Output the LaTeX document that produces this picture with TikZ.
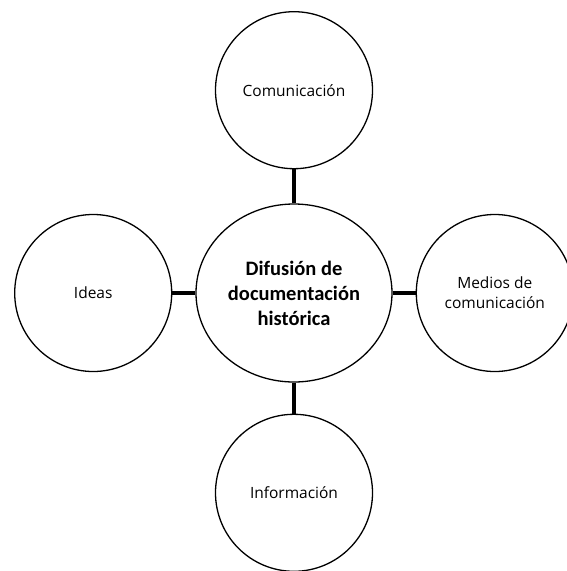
\documentclass[tikz,border=0pt]{standalone}
\usepackage{fontspec}
\setmainfont{Open Sans}
\newfontfamily\titlefont{Carlito}
\usetikzlibrary{positioning, shapes.geometric}
\tikzset{
every node/.style={align=center, inner sep=0pt},
tema/.style={draw, ellipse, line width=1.3pt, minimum width=196pt, minimum height=178pt, font=\titlefont\bfseries\fontsize{20.5}{25}\selectfont},
idea/.style={draw, circle, line width=1.3pt, minimum size=157pt, font=\fontsize{15.5}{20}\selectfont},
enlace/.style={line width=4.5pt},
}

\begin{document}
\begin{tikzpicture}[x=1pt, y=1pt]
    \useasboundingbox (0,0) rectangle (566,-571);
    \node[tema] (difusion) at (294,-293) {Difusión de\\documentación\\histórica};
    \node[idea, above=34pt of difusion] (comunicacion) {Comunicación};
    \node[idea, left=23pt of difusion] (ideas) {Ideas};
    \node[idea, right=23pt of difusion] (medios) {Medios de\\comunicación};
    \node[idea, below=31pt of difusion] (informacion) {Información};
    \draw[enlace]
        (difusion) edge (comunicacion)
        (difusion) edge (ideas)
        (difusion) edge (medios)
        (difusion) edge (informacion)
    ;
\end{tikzpicture}
\end{document}
